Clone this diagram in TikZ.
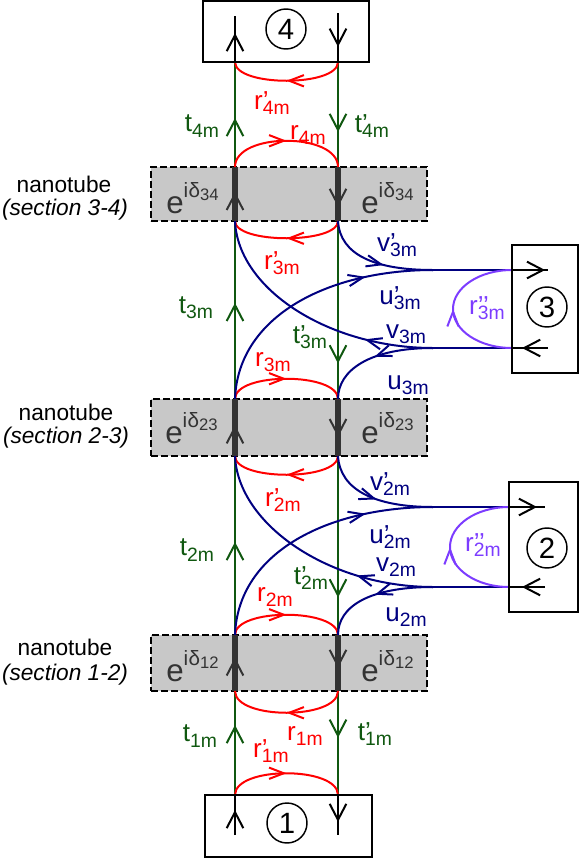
\documentclass[tikz,border=0pt]{standalone}
\usepackage{fontspec}
\setmainfont{Liberation Sans}
\usetikzlibrary{arrows.meta,decorations.markings}
\definecolor{cGreen}{RGB}{16,88,16}
\definecolor{cRed}{RGB}{255,0,0}
\definecolor{cBlue}{RGB}{0,0,128}
\definecolor{cPurple}{RGB}{124,60,255}
\definecolor{cDark}{RGB}{51,51,51}
\definecolor{cFill}{RGB}{200,200,200}
\newcommand\sbx[1]{\raisebox{-4pt}{\fontsize{14.5}{14.5}\selectfont #1}}
\newcommand\eid[1]{{\fontsize{23.5}{23.5}\selectfont e}\raisebox{12pt}{\fontsize{15.5}{15.5}\selectfont i\kern0.3pt δ}\raisebox{9.5pt}{\fontsize{12.5}{12.5}\selectfont #1}}
\tikzset{
  BigBarb/.tip={Straight Barb[length=12pt,width=12.5pt,line width=1.5pt]},
  SmallBarb/.tip={Straight Barb[length=11pt,width=8.5pt,line width=1.5pt]},
  arr/.style={postaction={decorate,decoration={markings,mark=at position #1 with {\arrow{BigBarb}}}}},
  sarr/.style={postaction={decorate,decoration={markings,mark=at position #1 with {\arrow{SmallBarb}}}}},
  gl/.style={color=cGreen, line width=1.5pt},
  kl/.style={color=black, line width=1.5pt},
  dl/.style={color=cDark, line width=4pt},
  rl/.style={color=cRed, line width=1.5pt},
  bl/.style={color=cBlue, line width=1.5pt},
  pl/.style={color=cPurple, line width=1.5pt},
  boxn/.style={draw, line width=1.5pt, inner sep=0pt},
  circ/.style={circle, draw, line width=1.1pt, minimum size=30pt, inner sep=0pt, font=\fontsize{22}{22}\selectfont},
  tube/.style={draw, fill=cFill, dash pattern=on 5pt off 2.5pt, line width=1.5pt, minimum width=207pt, inner sep=0pt},
  lab/.style={inner sep=0pt, font=\fontsize{19.5}{19.5}\selectfont},
  ntlab/.style={inner sep=0pt, font=\fontsize{17}{17}\selectfont},
  elab/.style={inner sep=0pt, text=cDark},
}
\begin{document}
\begin{tikzpicture}[x=0.75pt,y=-0.75pt]
\useasboundingbox (0,0) rectangle (580,858);
% coordinates
\coordinate (L4) at (235,62);   \coordinate (R4) at (338,62);
\coordinate (L4i) at (235,16);  \coordinate (R4i) at (338,13);
\coordinate (L34t) at (235,167); \coordinate (L34b) at (235,221);
\coordinate (R34t) at (338,167); \coordinate (R34b) at (338,221);
\coordinate (L23t) at (235,399); \coordinate (L23b) at (235,456);
\coordinate (R23t) at (338,399); \coordinate (R23b) at (338,456);
\coordinate (L12t) at (235,635); \coordinate (L12b) at (235,691);
\coordinate (R12t) at (338,635); \coordinate (R12b) at (338,691);
\coordinate (L1) at (235,795);  \coordinate (R1) at (338,795);
\coordinate (L1i) at (235,835); \coordinate (R1i) at (338,835);
\coordinate (M3t) at (433,270); \coordinate (M3b) at (433,348);
\coordinate (B3t) at (512,270); \coordinate (B3b) at (512,348);
\coordinate (B3ti) at (548,270); \coordinate (B3bi) at (548,348);
\coordinate (M2t) at (433,507); \coordinate (M2b) at (433,587);
\coordinate (B2t) at (509,507); \coordinate (B2b) at (509,587);
\coordinate (B2ti) at (545,507); \coordinate (B2bi) at (545,587);
% nanotube sections
\node[tube, minimum height=40.5pt] (g34) at (289,194) {};
\node[tube, minimum height=42.75pt] (g23) at (289,427.5) {};
\node[tube, minimum height=42pt] (g12) at (289,663) {};
% green lines
\draw[gl, arr=0.673] (L1) -- (L12b);
\draw[gl] (L12b) -- (L12t);
\draw[gl, arr=0.52] (L12t) -- (L23b);
\draw[gl] (L23b) -- (L23t);
\draw[gl, arr=0.54] (L23t) -- (L34b);
\draw[gl] (L34b) -- (L34t);
\draw[gl, arr=0.467] (L34t) -- (L4);
\draw[gl, arr=0.667] (R4) -- (R34t);
\draw[gl] (R34t) -- (R34b);
\draw[gl, arr=0.80] (R34b) -- (R23t);
\draw[gl] (R23t) -- (R23b);
\draw[gl, arr=0.79] (R23b) -- (R12t);
\draw[gl] (R12t) -- (R12b);
\draw[gl, arr=0.45] (R12b) -- (R1);
% dark segments
\draw[dl, arr=0.54] (L34b) -- (L34t);
\draw[dl, arr=0.74] (R34t) -- (R34b);
\draw[dl, arr=0.54] (L23b) -- (L23t);
\draw[dl, arr=0.67] (R23t) -- (R23b);
\draw[dl, arr=0.6] (L12b) -- (L12t);
\draw[dl, arr=0.59] (R12t) -- (R12b);
% red reflections
\draw[rl, sarr=0.5] (R4) .. controls +(0,25) and +(0,25) .. (L4);
\draw[rl, sarr=0.5] (L34t) .. controls +(0,-35) and +(0,-35) .. (R34t);
\draw[rl, sarr=0.5] (R34b) .. controls +(0,23) and +(0,23) .. (L34b);
\draw[rl, sarr=0.5] (L23t) .. controls +(0,-27) and +(0,-27) .. (R23t);
\draw[rl, sarr=0.5] (R23b) .. controls +(0,25) and +(0,25) .. (L23b);
\draw[rl, sarr=0.5] (L12t) .. controls +(0,-27) and +(0,-27) .. (R12t);
\draw[rl, sarr=0.5] (R12b) .. controls +(0,29) and +(0,29) .. (L12b);
\draw[rl, sarr=0.5] (L1) .. controls +(0,-29) and +(0,-29) .. (R1);
% blue, section 3
\draw[bl, sarr=0.58] (R34b) .. controls +(2,34) and +(-58,0) .. (M3t);
\draw[bl] (M3t) -- (B3t);
\draw[bl, sarr=0.74] (L23t) .. controls +(3,-84) and +(-103,0) .. (M3t);
\draw[bl] (B3b) -- (M3b);
\draw[bl, sarr=0.27] (M3b) .. controls +(-103,0) and +(3,69) .. (L34b);
\draw[bl, sarr=0.5] (M3b) .. controls +(-63,0) and +(0,-29) .. (R23t);
% blue, section 2
\draw[bl, sarr=0.52] (R23b) .. controls +(2,34) and +(-58,0) .. (M2t);
\draw[bl] (M2t) -- (B2t);
\draw[bl, sarr=0.74] (L12t) .. controls +(3,-84) and +(-103,0) .. (M2t);
\draw[bl] (B2b) -- (M2b);
\draw[bl, sarr=0.3] (M2b) .. controls +(-103,0) and +(3,69) .. (L23b);
\draw[bl, sarr=0.5] (M2b) .. controls +(-63,0) and +(0,-29) .. (R12t);
% purple
\draw[pl, sarr=0.5] (B3b) arc[start angle=90, end angle=270, x radius=59, y radius=39];
\draw[pl, sarr=0.5] (B2b) arc[start angle=90, end angle=270, x radius=59, y radius=40];
% boxes
\node[boxn, minimum width=124.5pt, minimum height=45.75pt] (box4) at (286,31.5) {};
\node[boxn, minimum width=125.25pt, minimum height=46.5pt] (box1) at (288.5,826) {};
\node[boxn, minimum width=49.5pt, minimum height=96pt] (box3) at (545,309) {};
\node[boxn, minimum width=51.75pt, minimum height=97.5pt] (box2) at (543.5,547) {};
\node[circ] (c4) at (286,29) {4};
\node[circ] (c1) at (287,823) {1};
\node[circ] (c3) at (547,307) {3};
\node[circ] (c2) at (547,548) {2};
\draw[kl, arr=0.63] (L4) -- (L4i);
\draw[kl, arr=0.69] (R4i) -- (R4);
\draw[kl, arr=0.625] (L1i) -- (L1);
\draw[kl, arr=0.675] (R1) -- (R1i);
\draw[kl, arr=0.92] (B3t) -- (B3ti);
\draw[kl, arr=0.72] (B3bi) -- (B3b);
\draw[kl, arr=0.78] (B2t) -- (B2ti);
\draw[kl, arr=0.64] (B2bi) -- (B2b);
% nanotube labels
\node[ntlab, anchor=base] (n34a) at (64,192) {nanotube};
\node[ntlab, anchor=base] (n34b) at (65,215) {\itshape (section 3-4)};
\node[ntlab, anchor=base] (n23a) at (66,420) {nanotube};
\node[ntlab, anchor=base] (n23b) at (66,443) {\itshape (section 2-3)};
\node[ntlab, anchor=base] (n12a) at (65,655) {nanotube};
\node[ntlab, anchor=base] (n12b) at (65,680) {\itshape (section 1-2)};
\node[elab, anchor=base west] (e34l) at (166,213) {\eid{34}};
\node[elab, anchor=base west] (e34r) at (361,213) {\eid{34}};
\node[elab, anchor=base west] (e23l) at (165,443) {\eid{23}};
\node[elab, anchor=base west] (e23r) at (361,443) {\eid{23}};
\node[elab, anchor=base west] (e12l) at (166,681) {\eid{12}};
\node[elab, anchor=base west] (e12r) at (361,681) {\eid{12}};
% red labels
\node[lab, text=cRed] (lr4p) at (272,103) {r\rlap{’}\sbx{4m}};
\node[lab, text=cRed] (lr4) at (308,135) {r\sbx{4m}};
\node[lab, text=cRed] (lr3p) at (282,263) {r\rlap{’}\sbx{3m}};
\node[lab, text=cRed] (lr3) at (273,362) {r\sbx{3m}};
\node[lab, text=cRed] (lr2p) at (283,500) {r\rlap{’}\sbx{2m}};
\node[lab, text=cRed] (lr2) at (275,597) {r\sbx{2m}};
\node[lab, text=cRed] (lr1) at (305,736) {r\sbx{1m}};
\node[lab, text=cRed] (lr1p) at (271,751) {r\rlap{’}\sbx{1m}};
% green labels
\node[lab, text=cGreen] (lt4) at (202,126) {t\sbx{4m}};
\node[lab, text=cGreen] (lt4p) at (372,126) {t\rlap{’}\sbx{4m}};
\node[lab, text=cGreen] (lt3) at (196,308) {t\sbx{3m}};
\node[lab, text=cGreen] (lt3p) at (310,337) {t\rlap{’}\sbx{3m}};
\node[lab, text=cGreen] (lt2) at (197,550) {t\sbx{2m}};
\node[lab, text=cGreen] (lt2p) at (311,578) {t\rlap{’}\sbx{2m}};
\node[lab, text=cGreen] (lt1) at (200,736) {t\sbx{1m}};
\node[lab, text=cGreen] (lt1p) at (375,734) {t\rlap{’}\sbx{1m}};
% blue labels
\node[lab, text=cBlue] (lv3p) at (397,245) {v\rlap{’}\sbx{3m}};
\node[lab, text=cBlue] (lu3p) at (400,298) {u\rlap{’}\sbx{3m}};
\node[lab, text=cBlue] (lv3) at (406,334) {v\sbx{3m}};
\node[lab, text=cBlue] (lu3) at (408,385) {u\sbx{3m}};
\node[lab, text=cBlue] (lv2p) at (390,484) {v\rlap{’}\sbx{2m}};
\node[lab, text=cBlue] (lu2p) at (390,537) {u\rlap{’}\sbx{2m}};
\node[lab, text=cBlue] (lv2) at (396,567) {v\sbx{2m}};
\node[lab, text=cBlue] (lu2) at (406,617) {u\sbx{2m}};
% purple labels
\node[lab, text=cPurple] (lr3pp) at (487,308) {r\rlap{’’}\sbx{3m}};
\node[lab, text=cPurple] (lr2pp) at (483,545) {r\rlap{’’}\sbx{2m}};
\end{tikzpicture}
\end{document}
